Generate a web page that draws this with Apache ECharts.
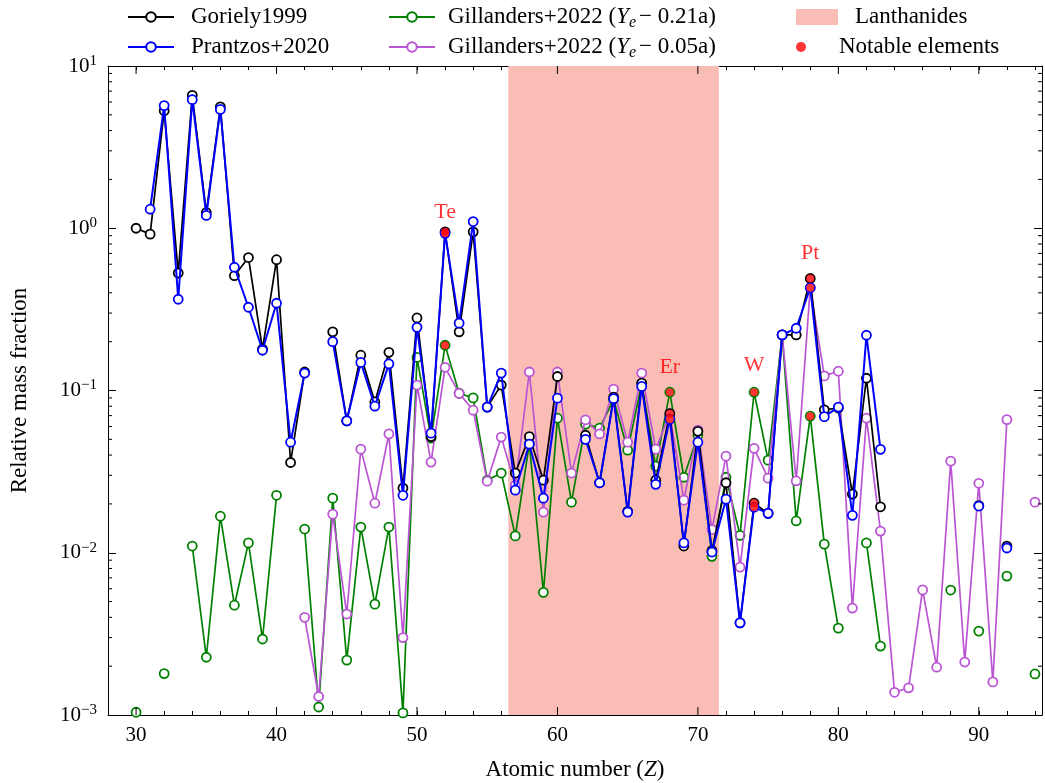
<!DOCTYPE html>
<html><head><meta charset="utf-8">
<script src="https://cdn.jsdelivr.net/npm/echarts@6/dist/echarts.min.js"></script>
<style>html,body{margin:0;padding:0;background:#fff}#c{width:1045px;height:783px}</style>
</head><body><div id="c"></div>
<script>
// ---------------- DATA ----------------
const atomicNumbers = [30,31,32,33,34,35,36,37,38,39,40,41,42,43,44,45,46,47,48,49,50,51,52,53,54,55,56,57,58,59,60,61,62,63,64,65,66,67,68,69,70,71,72,73,74,75,76,77,78,79,80,81,82,83,84,85,86,87,88,89,90,91,92,93,94];

const goriely1999 = [1.0,0.92,5.3,0.53,6.6,1.25,5.6,0.51,0.66,0.18,
  0.64,0.036,0.13,null,0.23,0.065,0.165,0.085,0.172,0.025,
  0.28,0.052,0.95,0.23,0.95,0.079,0.108,0.031,0.052,0.028,
  0.122,null,0.053,0.027,0.091,0.018,0.111,0.028,0.072,0.011,
  0.056,0.0103,0.027,0.0037,0.0202,0.0175,0.22,0.22,0.49,0.076,
  0.078,0.023,0.119,0.0192,null,null,null,null,null,null,
  0.0195,null,0.011,null,null];

const prantzos2020 = [null,1.31,5.7,0.365,6.2,1.2,5.4,0.575,0.326,0.177,
  0.345,0.048,0.128,null,0.2,0.065,0.149,0.08,0.146,0.0226,
  0.245,0.0546,0.93,0.26,1.1,0.079,0.128,0.0243,0.0467,0.0217,
  0.0897,null,0.05,0.027,0.089,0.0178,0.106,0.0264,0.0666,0.0115,
  0.048,0.0101,0.0214,0.0037,0.0191,0.0175,0.22,0.242,0.43,0.069,
  0.079,0.017,0.219,0.0434,null,null,null,null,null,null,
  0.0194,null,0.0107,null,null];

const gillanders021a = [0.00104,null,0.0018,null,0.011,0.00227,0.0168,0.00475,0.0115,0.00294,
  0.0226,null,0.014,0.00112,0.0217,0.00218,0.0144,0.00482,0.0144,0.00103,
  0.16,0.0508,0.19,0.0962,0.09,0.028,0.031,0.0127,0.047,0.0057,
  0.0675,0.0205,0.062,0.0586,0.088,0.0429,0.11,0.0342,0.0976,0.0292,
  0.053,0.0095,0.0292,0.0128,0.0976,0.0372,0.22,0.0157,0.0695,0.0113,
  0.00343,null,0.0115,0.00266,null,null,null,null,0.00589,null,
  0.00329,null,0.00718,null,0.00179];

const gillanders005a = [null,null,null,null,null,null,null,null,null,null,
  null,null,0.004,0.0013,0.0173,0.00419,0.0435,0.0202,0.054,0.003,
  0.108,0.0362,0.139,0.096,0.0756,0.0276,0.0516,0.026,0.13,0.0178,
  0.13,0.031,0.066,0.054,0.102,0.048,0.128,0.0435,0.072,0.0211,
  0.057,0.0139,0.0394,0.00815,0.044,0.0288,0.22,0.0277,0.43,0.123,
  0.1315,0.00456,0.0675,0.0136,0.00138,0.00147,0.0059,0.00197,0.0367,0.00212,
  0.0268,0.0016,0.0662,null,0.0205];

const lanthanideRange = [56.5, 71.5];
const notableZ = [52, 68, 74, 78];
const notableNames = ['Te', 'Er', 'W', 'Pt'];
const notableLabelAnchor = [1.25, 0.139, 0.143, 0.70];

const xTickLabels = [30, 40, 50, 60, 70, 80, 90];
const yDecades = [-3, -2, -1, 0, 1];

// ---------------- CHART ----------------
const F = "'Liberation Serif','Times New Roman',serif";
const X_MIN = 28, X_MAX = 94.5, Y_MIN = 1e-3, Y_MAX = 10;
const FS = 21, TFS = 23, LFS = 23;

function pairs(vals) { return atomicNumbers.map((z, i) => [z, vals[i]]); }
function valueAt(vals, z) { return vals[atomicNumbers.indexOf(z)]; }

const yMinorTicks = [];
yDecades.slice(0, -1).forEach(k => { for (let m = 2; m <= 9; m++) yMinorTicks.push(m * Math.pow(10, k)); });

const notableDots = [];
[goriely1999, prantzos2020, gillanders021a].forEach(arr => {
  notableZ.forEach(z => { const v = valueAt(arr, z); if (v != null) notableDots.push([z, v]); });
});

function lineSeries(name, vals, color, width, z) {
  return {
    name, type: 'line', data: pairs(vals), connectNulls: false,
    symbol: 'circle', symbolSize: 9, showSymbol: true, z,
    lineStyle: { color, width },
    itemStyle: { color: '#fff', borderColor: color, borderWidth: 1.8 },
    emphasis: { disabled: true }, animation: false
  };
}

const G1 = 'Gillanders+2022 (Ye − 0.21a)';
const G2 = 'Gillanders+2022 (Ye − 0.05a)';
const richText = {
  i: { fontFamily: F, fontSize: LFS, fontStyle: 'italic', color: '#000', lineHeight: 28 },
  sub: { fontFamily: F, fontSize: 16, fontStyle: 'italic', color: '#000', lineHeight: 28, verticalAlign: 'bottom', padding: [0, 3, 0, 0] }
};
function legendFmt(name) {
  if (name === G1) return 'Gillanders+2022 ({i|Y}{sub|e}− 0.21a)';
  if (name === G2) return 'Gillanders+2022 ({i|Y}{sub|e}− 0.05a)';
  return name;
}
function mkLegend(name, left, top, pad, extra) {
  return Object.assign({
    data: [name], left, top, padding: 0, orient: 'vertical', itemWidth: 46, itemHeight: 12,
    selectedMode: false, formatter: legendFmt,
    textStyle: { fontFamily: F, fontSize: LFS, color: '#000', lineHeight: 28, padding: [0, 0, 0, pad], rich: richText }
  }, extra || {});
}

const chart = echarts.init(document.getElementById('c'), null, { renderer: 'canvas' });
const axisCommon = { axisLine: { show: true, onZero: false, lineStyle: { color: '#000', width: 1 } }, splitLine: { show: false } };

chart.setOption({
  animation: false,
  backgroundColor: '#fff',
  grid: { left: 108, right: 3, top: 66, bottom: 68, containLabel: false, outerBoundsMode: 'none' },
  legend: [
    mkLegend('Goriely1999', 127, 3, 12),
    mkLegend('Prantzos+2020', 127, 33, 12),
    mkLegend(G1, 388, 3, 8),
    mkLegend(G2, 388, 33, 8),
    mkLegend('Lanthanides', 796, 3, 12, { itemWidth: 42, itemHeight: 16, icon: 'rect' }),
    mkLegend('Notable elements', 796, 33, 12, { itemWidth: 42, itemHeight: 10, icon: 'circle' })
  ],
  xAxis: [
    Object.assign({
      type: 'value', min: X_MIN, max: X_MAX, interval: 2, position: 'bottom',
      axisTick: { inside: true, length: 4, lineStyle: { color: '#000' } },
      axisLabel: {
        fontFamily: F, fontSize: FS, color: '#000', margin: 10,
        formatter: v => (xTickLabels.indexOf(v) >= 0 ? String(v) : '')
      },
      name: 'Atomic number ({i|Z})', nameLocation: 'middle', nameGap: 43,
      nameTextStyle: { fontFamily: F, fontSize: TFS, color: '#000', rich: { i: { fontFamily: F, fontSize: TFS, fontStyle: 'italic', color: '#000' } } }
    }, axisCommon),
    Object.assign({
      type: 'value', min: X_MIN, max: X_MAX, interval: 2, position: 'top',
      axisTick: { inside: true, length: 4, lineStyle: { color: '#000' } },
      axisLabel: { show: false }
    }, axisCommon)
  ],
  yAxis: [
    Object.assign({
      type: 'log', logBase: 10, min: Y_MIN, max: Y_MAX, position: 'left',
      axisTick: { inside: true, length: 8, lineStyle: { color: '#000' } },
      axisLabel: {
        margin: 11,
        formatter: v => { const e = Math.round(Math.log10(v)); return '{b|10}{s|' + (e < 0 ? '−' : '') + Math.abs(e) + '}'; },
        rich: {
          b: { fontFamily: F, fontSize: FS, color: '#000' },
          s: { fontFamily: F, fontSize: 15, color: '#000', verticalAlign: 'bottom', padding: [0, 0, 10, 0] }
        }
      },
      name: 'Relative mass fraction', nameLocation: 'middle', nameGap: 77,
      nameTextStyle: { fontFamily: F, fontSize: TFS, color: '#000' }
    }, axisCommon),
    Object.assign({
      type: 'log', logBase: 10, min: Y_MIN, max: Y_MAX, position: 'right',
      axisTick: { inside: true, length: 8, lineStyle: { color: '#000' } },
      axisLabel: { show: false }
    }, axisCommon)
  ],
  series: [
    {
      name: 'Lanthanides', type: 'line', data: [], z: 1,
      itemStyle: { color: '#fabdb5' }, lineStyle: { color: '#fabdb5' },
      markArea: { silent: true, itemStyle: { color: '#fabdb5', opacity: 1 },
        data: [[{ xAxis: lanthanideRange[0] }, { xAxis: lanthanideRange[1] }]] }
    },
    lineSeries(G1, gillanders021a, '#008000', 1.7, 2),
    lineSeries(G2, gillanders005a, '#ba55d3', 1.7, 3),
    lineSeries('Goriely1999', goriely1999, '#000000', 1.7, 4),
    lineSeries('Prantzos+2020', prantzos2020, '#0000ff', 2.0, 5),
    {
      name: 'Notable elements', type: 'scatter', data: notableDots, z: 6,
      symbol: 'circle', symbolSize: 8, itemStyle: { color: '#ff0000' }, emphasis: { disabled: true }
    },
    {
      name: 'labels', type: 'scatter', z: 7, symbolSize: 0,
      data: notableZ.map((z, i) => ({ value: [z, notableLabelAnchor[i]], name: notableNames[i] })),
      label: { show: true, position: 'inside', formatter: p => p.name, color: '#ff0000', fontFamily: F, fontSize: 22 },
      emphasis: { disabled: true }
    },
    {
      name: 'ticks', type: 'custom', z: 8, clip: false, silent: true,
      data: [[60, 1]],
      renderItem: function (params, api) {
        const ch = [];
        const st = { stroke: '#000', lineWidth: 1 };
        xTickLabels.forEach(v => {
          const b = api.coord([v, Y_MIN]), t = api.coord([v, Y_MAX]);
          ch.push({ type: 'line', shape: { x1: b[0], y1: b[1], x2: b[0], y2: b[1] - 8 }, style: st });
          ch.push({ type: 'line', shape: { x1: t[0], y1: t[1], x2: t[0], y2: t[1] + 8 }, style: st });
        });
        yMinorTicks.forEach(v => {
          const l = api.coord([X_MIN, v]), r = api.coord([X_MAX, v]);
          ch.push({ type: 'line', shape: { x1: l[0], y1: l[1], x2: l[0] + 4, y2: l[1] }, style: st });
          ch.push({ type: 'line', shape: { x1: r[0], y1: r[1], x2: r[0] - 4, y2: r[1] }, style: st });
        });
        return { type: 'group', children: ch };
      }
    }
  ]
});
</script></body></html>
